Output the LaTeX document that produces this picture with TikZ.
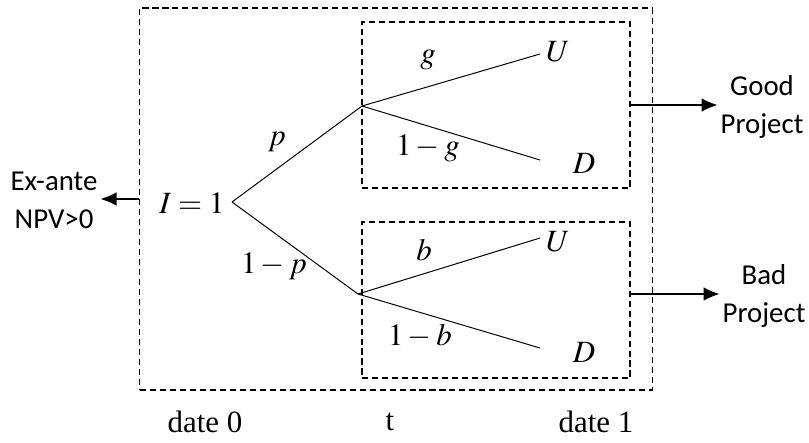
\documentclass[tikz,border=0pt]{standalone}
\usepackage{mathptmx}
\usepackage{fontspec}
\setmainfont{Liberation Serif}
\newfontfamily\lblfont{Carlito}
\usetikzlibrary{arrows.meta, positioning}

\begin{document}
\begin{tikzpicture}[
        x=0.025cm, y=-0.025cm,
        font=\fontsize{22}{26}\selectfont,
        box/.style={draw, dash pattern=on 4.3pt off 2.8pt, line width=0.8pt,
                    inner sep=0pt},
        br/.style={line width=0.7pt},
        arr/.style={-{Latex[length=4mm, width=3.4mm]}, line width=0.9pt},
        txt/.style={font=\lblfont\fontsize{20.5}{27}\selectfont, align=center,
                    inner sep=2pt},
        lbl/.style={inner sep=1pt},
      ]
      \useasboundingbox (0,0) rectangle (809,442);

      % Dashed boxes
      \node[box, minimum width=12.8cm, minimum height=9.55cm] (outer) at (396,199) {};
      \node[box, minimum width=6.7cm, minimum height=4.15cm] (gbox) at (496,105) {};
      \node[box, minimum width=6.7cm, minimum height=3.9cm] (bbox) at (496,300) {};

      % Tree
      \node[lbl] (root) at (192,203) {$I=1$};
      \coordinate (o) at (232,202);
      \coordinate (hg) at (362,106);
      \coordinate (hb) at (358,294);
      \draw[br] (o)--(hg); \draw[br] (o)--(hb);
      \node[lbl] (p) at (277,142) {$p$};
      \node[lbl] (q) at (274,266) {$1-p$};

      % Good branch
      \coordinate (gue) at (540,54);
      \coordinate (gde) at (540,160);
      \draw[br] (hg)--(gue); \draw[br] (hg)--(gde);
      \node[lbl] (gu) at (558,52) {$U$};
      \node[lbl] (gd) at (584,163) {$D$};
      \node[lbl] (g) at (428,60) {$g$};
      \node[lbl] (ng) at (428,148) {$1-g$};

      % Bad branch
      \coordinate (bue) at (540,238);
      \coordinate (bde) at (540,348);
      \draw[br] (hb)--(bue); \draw[br] (hb)--(bde);
      \node[lbl] (bu) at (558,242) {$U$};
      \node[lbl] (bd) at (584,352) {$D$};
      \node[lbl] (b) at (424,250) {$b$};
      \node[lbl] (nb) at (420,336) {$1-b$};

      % Outcomes
      \node[txt] (good) at (762,107) {Good\\Project};
      \node[txt] (bad) at (764,296) {Bad\\Project};
      \node[txt] (exante) at (54,200) {Ex-ante\\NPV>0};
      \draw[arr] (gbox.east)--(good.west |- gbox.east);
      \draw[arr] (bbox.east |- 0,294)--(bad.west |- 0,294);
      \draw[arr] (outer.west)--(exante.east |- outer.west);

      % Dates
      \node (d0) at (205,422) {date 0};
      \node (dt) at (390,422) {t};
      \node (d1) at (596,422) {date 1};
      \end{tikzpicture}
\end{document}
